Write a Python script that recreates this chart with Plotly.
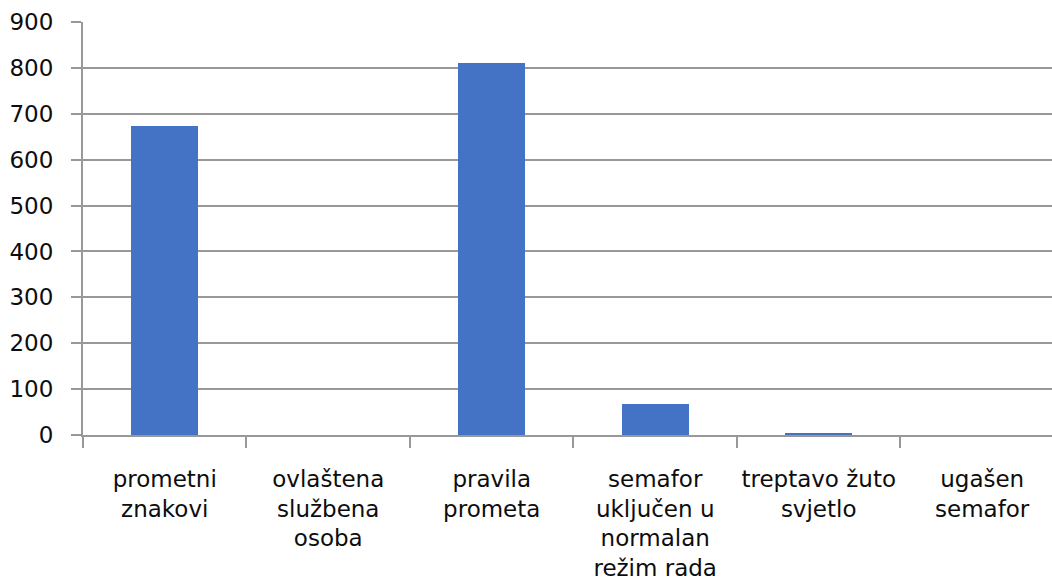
import plotly.graph_objects as go

categories = [
    "prometni<br>znakovi",
    "ovlaštena<br>službena<br>osoba",
    "pravila<br>prometa",
    "semafor<br>uključen u<br>normalan<br>režim rada",
    "treptavo žuto<br>svjetlo",
    "ugašen<br>semafor",
]
values = [673, 0, 810, 67, 5, 0]
y_ticks = [0, 100, 200, 300, 400, 500, 600, 700, 800, 900]

GRID = "#989898"
fig = go.Figure(go.Bar(x=categories, y=values, width=0.41,
                       marker=dict(color="#4472C4", line=dict(width=0))))

fig.update_layout(
    width=1052, height=588,
    margin=dict(l=83, r=0, t=22, b=153, autoexpand=False),
    paper_bgcolor="white", plot_bgcolor="white",
    font=dict(family="DejaVu Sans", size=23, color="#0d0d0d"),
    showlegend=False,
    bargap=0,
)
fig.update_xaxes(
    type="category", range=[-0.5, 5.427], automargin=False,
    showgrid=False, showline=True, linecolor=GRID, linewidth=2,
    ticks="outside", tickson="boundaries", ticklen=11, tickwidth=2, tickcolor=GRID,
    tickangle=0, ticklabelstandoff=22,
)
fig.update_yaxes(
    range=[0, 900], tickvals=y_ticks, automargin=False,
    showgrid=True, gridcolor=GRID, gridwidth=2,
    showline=True, linecolor=GRID, linewidth=2,
    ticks="outside", ticklen=10, tickwidth=2, tickcolor=GRID,
    zeroline=False, ticklabelstandoff=13,
)
fig.write_html(
    "out.html",
    config={"displayModeBar": False},
    post_script="document.body.style.margin='0';document.body.style.overflow='hidden';",
)
